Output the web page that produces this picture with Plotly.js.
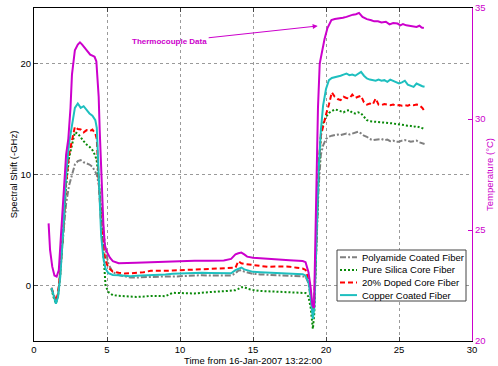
<!DOCTYPE html>
<html>
<head>
<meta charset="utf-8">
<script src="https://cdn.plot.ly/plotly-3.0.1.min.js"></script>
<style>html,body{margin:0;padding:0;background:#fff;}#chart{width:498px;height:366px;}</style>
</head>
<body>
<div id="chart"></div>
<script>
// Shared time axis for the four fiber series (minutes from start)
var fiberTime = [1.2,1.35,1.5,1.65,1.8,2.0,2.2,2.4,2.6,2.8,3.0,3.2,3.4,3.6,3.8,4.0,4.2,4.3,4.45,4.6,4.75,4.9,5.1,5.4,5.8,6.2,6.6,7.0,7.5,8.0,8.5,9.0,9.5,10.0,10.5,11.0,11.5,12.0,12.5,13.0,13.5,13.8,14.0,14.2,14.4,14.7,15.0,15.5,16.0,16.5,17.0,17.5,18.0,18.4,18.6,18.8,18.95,19.1,19.2,19.35,19.5,19.65,19.8,20.0,20.2,20.4,20.6,20.8,21.0,21.2,21.4,21.6,21.8,22.0,22.2,22.4,22.6,22.8,23.0,23.2,23.4,23.6,23.8,24.0,24.2,24.4,24.6,24.8,25.0,25.2,25.4,25.6,25.8,26.0,26.2,26.4,26.6,26.75];

var polyamide = [-0.3,-1.0,-1.5,-0.8,1.5,4.5,7.4,9.0,10.0,10.9,11.2,11.3,11.1,11.0,10.9,10.7,10.3,10.0,9.0,7.2,5.0,3.2,1.9,1.2,0.95,0.8,0.72,0.72,0.75,0.78,0.8,0.82,0.8,0.84,0.86,0.9,0.93,0.9,0.88,0.87,0.9,1.1,1.35,1.38,1.25,1.15,1.05,1.0,0.95,0.93,0.9,0.88,0.85,0.84,0.8,0.2,-1.0,-2.5,-1.5,4.0,9.0,11.8,12.6,13.2,13.4,13.5,13.55,13.6,13.55,13.65,13.7,13.6,13.7,13.75,13.85,13.7,13.5,13.4,13.2,13.1,13.15,13.2,13.2,13.1,13.15,13.0,13.05,12.95,12.95,13.05,13.1,13.05,12.95,13.0,13.05,12.9,12.85,12.75];

var pureSilica = [-0.3,-1.1,-1.6,-0.9,1.0,5.0,9.0,11.5,12.8,13.8,13.7,13.3,13.0,12.7,12.5,12.2,11.7,11.2,9.5,6.0,2.8,0.0,-0.6,-0.87,-0.93,-0.96,-1.0,-1.03,-1.0,-0.94,-0.95,-0.96,-0.66,-0.7,-0.72,-0.72,-0.65,-0.58,-0.55,-0.52,-0.45,-0.42,-0.3,-0.15,-0.15,-0.32,-0.4,-0.5,-0.52,-0.55,-0.58,-0.6,-0.62,-0.63,-0.68,-1.0,-2.0,-3.9,-2.5,4.0,10.0,13.6,14.6,15.2,15.55,15.7,15.85,15.8,15.7,15.6,15.75,15.8,15.55,15.5,15.6,15.5,15.2,14.9,14.8,14.78,14.75,14.72,14.7,14.7,14.65,14.6,14.6,14.55,14.5,14.5,14.45,14.4,14.38,14.3,14.35,14.25,14.2,14.1];

var dopedCore = [-0.2,-0.9,-1.4,-0.7,1.2,5.0,9.3,11.8,13.0,14.3,14.1,14.05,13.8,14.0,13.9,14.05,13.7,13.2,9.0,5.5,3.5,2.2,1.6,1.25,1.15,1.08,1.1,1.14,1.2,1.32,1.3,1.32,1.35,1.38,1.4,1.42,1.44,1.46,1.5,1.5,1.53,1.6,2.2,2.0,1.95,1.9,1.83,1.75,1.68,1.72,1.74,1.7,1.6,1.53,1.4,0.5,-0.8,-2.2,-1.2,5.0,11.0,13.5,14.4,15.4,16.3,17.4,17.0,16.8,16.7,17.0,16.9,16.85,17.2,16.9,17.0,17.1,16.5,16.3,16.4,16.3,16.85,16.3,16.25,16.35,16.3,16.25,16.3,16.2,16.25,16.2,16.25,16.2,16.3,16.25,16.3,16.25,16.0,15.7];

var copperCoated = [-0.2,-1.0,-1.65,-1.0,0.8,5.0,10.0,12.8,14.3,16.0,16.4,16.0,16.15,15.8,15.5,15.3,14.9,14.2,9.0,4.5,2.5,1.5,1.1,0.95,0.93,0.88,0.84,0.88,0.9,0.93,0.98,1.0,1.05,1.08,1.1,1.12,1.14,1.12,1.1,1.08,1.1,1.38,1.5,1.62,1.45,1.33,1.23,1.2,1.18,1.16,1.14,1.12,1.08,1.02,0.9,0.3,-1.0,-3.0,-2.0,5.0,10.5,14.0,16.2,17.7,18.5,18.7,18.75,18.8,18.9,19.0,19.1,18.95,19.0,18.9,19.1,19.25,18.9,18.65,18.55,18.5,18.45,18.55,18.45,18.5,18.35,18.55,18.45,18.3,18.2,18.3,18.45,18.1,18.0,17.9,18.2,18.05,17.95,17.9];

// Thermocouple (right axis, degrees C)
var tcTime = [1.0,1.1,1.25,1.4,1.55,1.7,1.85,2.0,2.2,2.35,2.5,2.6,2.7,2.8,3.0,3.15,3.3,3.5,3.7,3.85,4.0,4.15,4.27,4.35,4.43,4.5,4.62,4.75,4.85,5.0,5.2,5.4,5.8,6.5,7.0,8.0,9.0,10.0,11.0,12.0,13.0,13.5,13.8,14.0,14.2,14.4,14.6,15.0,15.5,16.0,16.5,17.0,17.5,18.0,18.4,18.6,18.8,18.95,19.07,19.18,19.3,19.45,19.57,19.75,19.9,20.1,20.37,20.6,20.9,21.16,21.4,21.6,21.85,22.05,22.26,22.5,22.8,23.1,23.3,23.56,23.8,24.1,24.35,24.6,24.9,25.1,25.27,25.5,25.75,25.96,26.2,26.4,26.55,26.7];
var tcTemp = [25.3,24.1,23.35,22.95,22.9,23.2,24.8,26.3,28.4,29.1,30.5,32.0,32.7,33.1,33.35,33.45,33.35,33.2,33.0,32.9,32.85,32.8,32.6,31.8,31.0,29.5,27.1,25.3,24.3,24.0,23.75,23.6,23.5,23.5,23.52,23.55,23.58,23.6,23.62,23.62,23.63,23.7,23.9,23.95,23.98,23.9,23.8,23.75,23.72,23.7,23.68,23.66,23.64,23.62,23.6,23.55,23.1,22.4,21.6,21.5,26.0,30.5,32.5,33.2,33.6,34.1,34.46,34.5,34.52,34.56,34.6,34.65,34.7,34.72,34.78,34.6,34.5,34.45,34.4,34.4,34.35,34.38,34.26,34.32,34.3,34.22,34.28,34.22,34.2,34.18,34.15,34.2,34.12,34.1];

var seriesNames = ["Polyamide Coated Fiber","Pure Silica Core Fiber","20% Doped Core Fiber","Copper Coated Fiber"];
var xTickVals = [0,5,10,15,20,25,30];
var yTickVals = [0,10,20];
var y2TickVals = [20,25,30,35];

var FONT = "Liberation Sans, Arial, Helvetica, sans-serif";
var MAG = "#cc00cc";
var styles = [
  {color: "#808080", width: 2, dash: "6px,2px,2px,2px"},
  {color: "#0a8a0a", width: 2, dash: "2px,2px"},
  {color: "#ff0000", width: 2, dash: "5px,3px"},
  {color: "#1ebfbf", width: 2, dash: "solid"}
];
var fiberSeries = [polyamide, pureSilica, dopedCore, copperCoated];

var traces = fiberSeries.map(function (ys, i) {
  return {x: fiberTime, y: ys, name: seriesNames[i], mode: "lines", line: styles[i], showlegend: false};
});
traces.push({x: tcTime, y: tcTemp, name: "Thermocouple Data", mode: "lines", yaxis: "y2",
  showlegend: false, line: {color: MAG, width: 2}});

// Plot area geometry (pixels) used to place the compact Matlab-style legend box
var W = 498, H = 366, ML = 34, MR = 26, MT = 8, MB = 25;
var PW = W - ML - MR, PH = H - MT - MB;
function px2x(p) { return (p - ML) / PW; }
function px2y(p) { return (H - MB - p) / PH; }

var shapes = [{
  type: "rect", xref: "paper", yref: "paper",
  x0: px2x(337), x1: px2x(466), y0: px2y(301), y1: px2y(250),
  fillcolor: "#fff", line: {color: "#444", width: 1}, layer: "above"
}];
var annotations = [];
seriesNames.forEach(function (nm, i) {
  var yc = px2y(257.3 + i * 12.6);
  shapes.push({type: "line", xref: "paper", yref: "paper",
    x0: px2x(340), x1: px2x(357), y0: yc, y1: yc,
    line: {color: styles[i].color, width: 2, dash: styles[i].dash}, layer: "above"});
  annotations.push({xref: "paper", yref: "paper", x: px2x(360), y: yc,
    xanchor: "left", yanchor: "middle", showarrow: false, text: nm,
    font: {family: FONT, size: 9.5, color: "#000"}});
});
annotations.push({
  xref: "x", yref: "y2", x: 19.43, y: 34.19,
  ax: -148, ay: 16, text: "<b>Thermocouple Data</b>",
  font: {size: 8, color: MAG, family: FONT},
  showarrow: true, arrowhead: 2, arrowsize: 1, arrowwidth: 1, arrowcolor: MAG
});

var layout = {
  width: W, height: H,
  margin: {l: ML, r: MR, t: MT, b: MB, pad: 0},
  paper_bgcolor: "#fff", plot_bgcolor: "#fff",
  font: {family: FONT, size: 9.5, color: "#000"},
  showlegend: false,
  xaxis: {
    range: [0, 30], tickvals: xTickVals, ticks: "inside", ticklen: 4,
    showline: true, linecolor: "#000", linewidth: 1, mirror: "ticks",
    showgrid: true, gridcolor: "#9a9a9a", griddash: "dot", gridwidth: 1,
    zeroline: false, tickfont: {size: 9.5},
    title: {text: "Time from 16-Jan-2007 13:22:00", font: {size: 9.5}, standoff: 0}
  },
  yaxis: {
    range: [-5, 25], tickvals: yTickVals, ticks: "inside", ticklen: 4,
    showline: true, linecolor: "#000", linewidth: 1,
    showgrid: true, gridcolor: "#9a9a9a", griddash: "dot", gridwidth: 1,
    zeroline: false, tickfont: {size: 9.5},
    title: {text: "Spectral Shift (-GHz)", font: {size: 9.5}, standoff: 1}
  },
  yaxis2: {
    overlaying: "y", side: "right", anchor: "x",
    range: [20, 35], tickvals: y2TickVals, ticks: "inside", ticklen: 4,
    tickcolor: MAG, showline: true, linecolor: MAG, linewidth: 1,
    showgrid: false, zeroline: false,
    tickfont: {size: 9.5, color: MAG},
    title: {text: "Temperature (°C)", font: {size: 9.5, color: MAG}, standoff: 1}
  },
  shapes: shapes,
  annotations: annotations
};

Plotly.newPlot("chart", traces, layout, {displayModeBar: false, staticPlot: true});
</script>
</body>
</html>
